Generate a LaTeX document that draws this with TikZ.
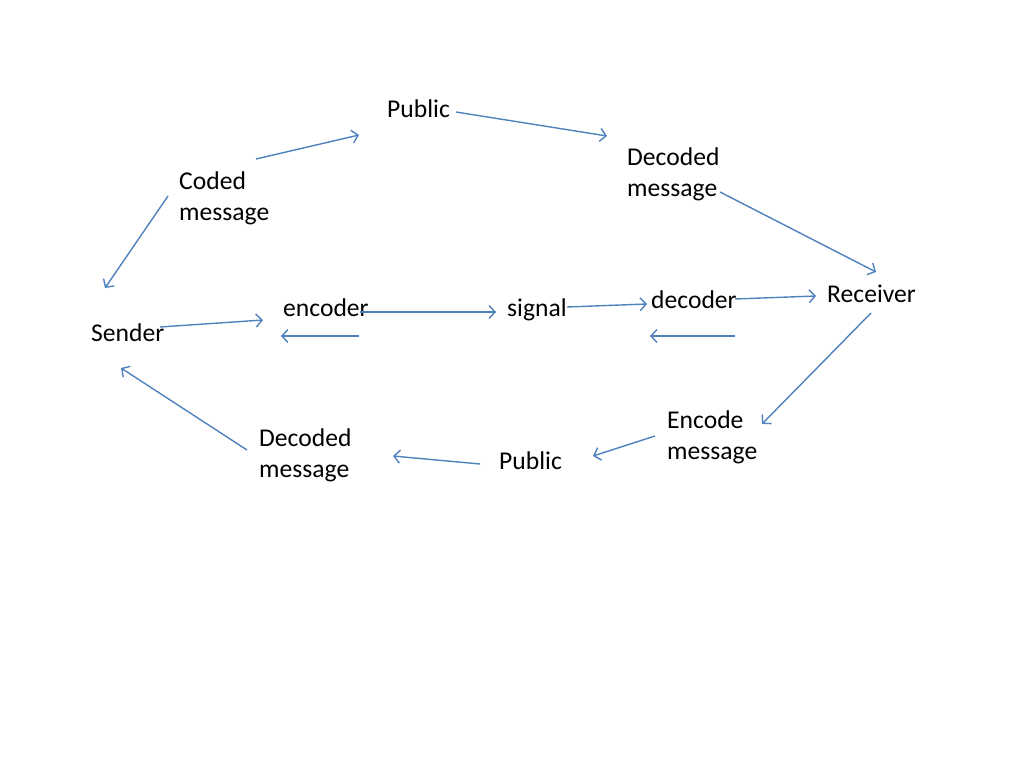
\documentclass[tikz,border=0pt]{standalone}
\usepackage{fontspec}
\setmainfont{Carlito}
\usetikzlibrary{arrows.meta}
\definecolor{arr}{HTML}{4F81BD}
\begin{document}
\begin{tikzpicture}[x=1pt,y=-1pt,
  lbl/.style={anchor=base west,inner sep=0pt,align=left,font=\fontsize{25.6pt}{31pt}\selectfont},
  conn/.style={draw=arr,line width=1.4pt,-{Straight Barb[length=6pt,width=13pt,line width=1.4pt]}}]
\useasboundingbox (0,0) rectangle (1024,768);
% nodes (multi-line nodes: base = baseline of last line)
\node[lbl] (pubT) at (387,117) {Public};
\node[lbl] (coded) at (179,220) {Coded\\message};
\node[lbl] (decT) at (627,196) {Decoded\\message};
\node[lbl] (recv) at (827,302) {Receiver};
\node[lbl] (send) at (91,341) {Sender};
\node[lbl] (enc) at (283,316) {encoder};
\node[lbl] (sig) at (507,316) {signal};
\node[lbl] (dec) at (651,308) {decoder};
\node[lbl] (encm) at (667,459) {Encode\\message};
\node[lbl] (pubB) at (499,469) {Public};
\node[lbl] (decB) at (259,477) {Decoded\\message};
% endpoints
\coordinate (a1s) at (256,159); \coordinate (a1e) at (359,135);
\coordinate (a2s) at (456,112); \coordinate (a2e) at (607,136);
\coordinate (a3s) at (720,192); \coordinate (a3e) at (876,272);
\coordinate (a4s) at (168,196); \coordinate (a4e) at (105,288);
\coordinate (a5s) at (160,327); \coordinate (a5e) at (263,320);
\coordinate (a6s) at (360,312); \coordinate (a6e) at (496,312);
\coordinate (a7s) at (359,336); \coordinate (a7e) at (281,336);
\coordinate (a8s) at (567,307); \coordinate (a8e) at (647,304);
\coordinate (a9s) at (735,299); \coordinate (a9e) at (816,296);
\coordinate (a10s) at (735,336); \coordinate (a10e) at (650,336);
\coordinate (a11s) at (871,313); \coordinate (a11e) at (762,424);
\coordinate (a12s) at (655,436); \coordinate (a12e) at (593,456);
\coordinate (a13s) at (480,464); \coordinate (a13e) at (393,456);
\coordinate (a14s) at (247,450); \coordinate (a14e) at (121,368);
% connectors
\foreach \i in {1,...,14} {\draw[conn] (a\i s) -- (a\i e);}
\end{tikzpicture}
\end{document}
